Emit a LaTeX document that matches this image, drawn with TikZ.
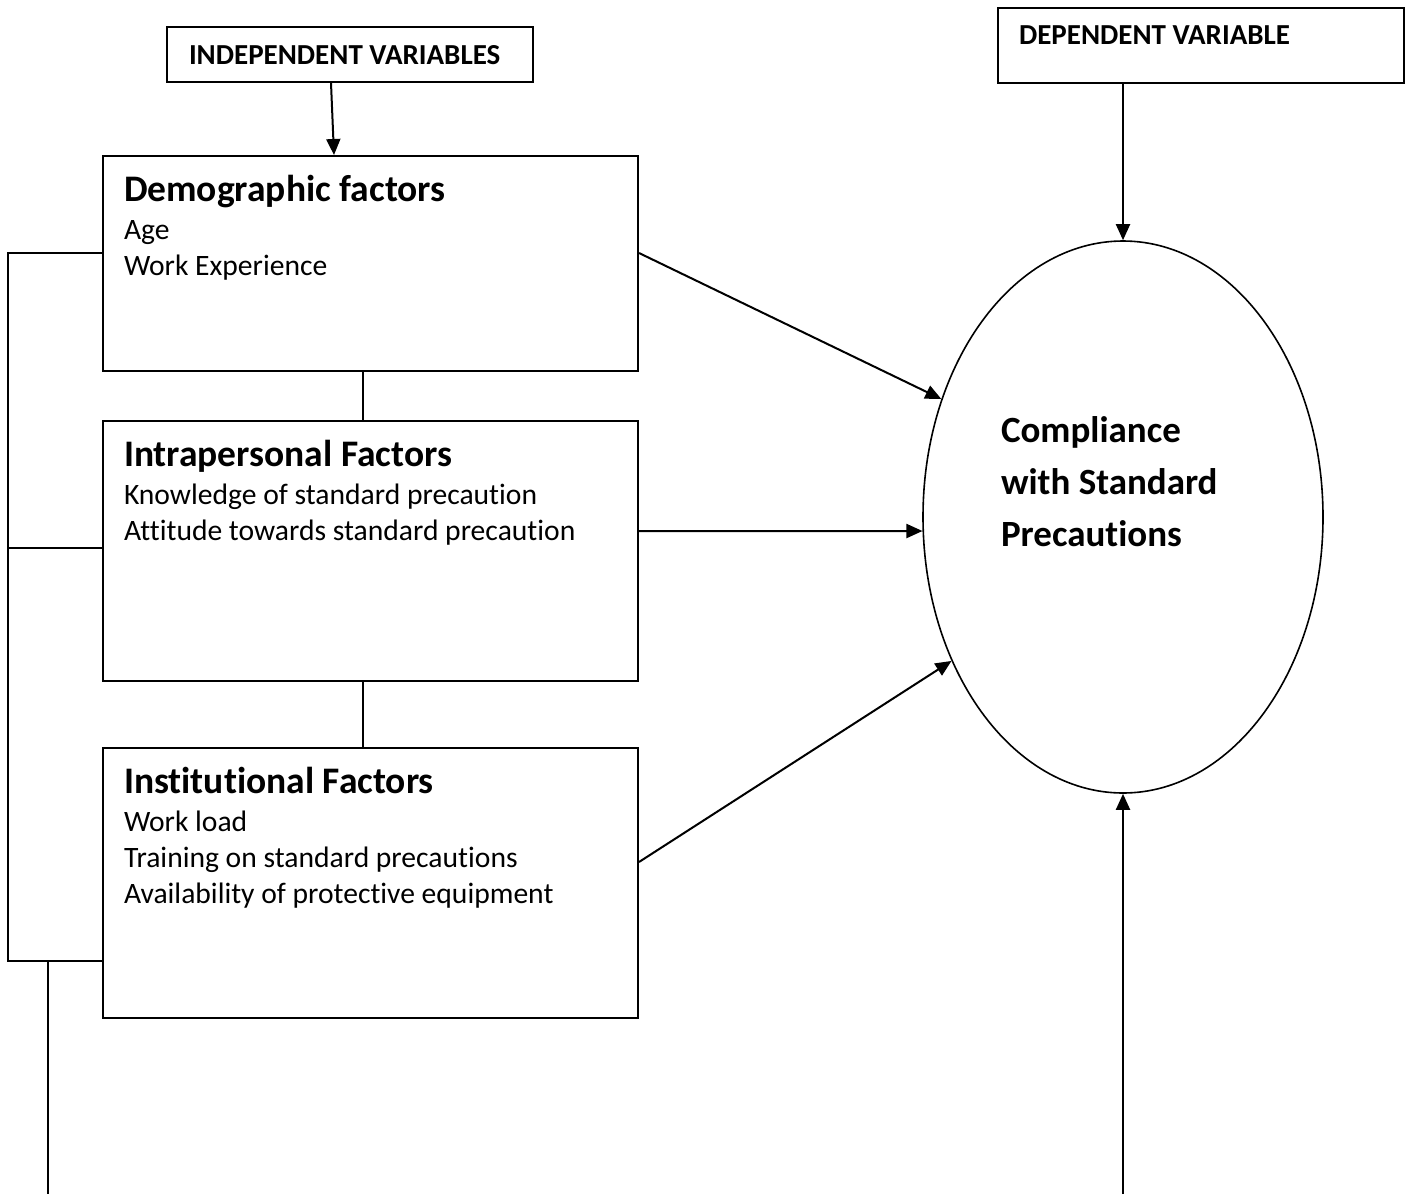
\documentclass[tikz,border=0pt]{standalone}
\usepackage{fontspec}
\setmainfont{Carlito}[Ligatures=NoCommon]
\usetikzlibrary{shapes.geometric,arrows.meta}
\begin{document}
\begin{tikzpicture}[x=1pt,y=-1pt, line width=2pt,
  box/.style={draw, rectangle, anchor=north west, inner sep=0pt},
  head/.style={anchor=base west, inner sep=0pt, font=\fontsize{37.5}{40}\selectfont\bfseries},
  body/.style={anchor=base west, inner sep=0pt, font=\fontsize{29.6}{34}\selectfont},
  lab/.style={anchor=base west, inner sep=0pt, font=\fontsize{29}{30}\selectfont\bfseries},
  big/.style={anchor=base west, inner sep=0pt, font=\fontsize{37}{42}\selectfont\bfseries},
  arr/.style={-{Triangle[length=16pt,width=14pt]}}]
\useasboundingbox (0,0) rectangle (1405,1194);

% header boxes
\node[box, minimum width=366pt, minimum height=55pt] (ind) at (166,26) {};
\node[lab] (indT) at (188,64) {INDEPENDENT VARIABLES};
\node[box, minimum width=406pt, minimum height=75pt] (dep) at (997,7) {};
\node[lab] (depT) at (1018,44) {DEPENDENT VARIABLE};

% factor boxes
\node[box, minimum width=535pt, minimum height=215pt] (demo) at (102,155) {};
\node[head] (demoH) at (123,201) {Demographic factors};
\node[body] (demo1) at (123,239) {Age};
\node[body] (demo2) at (123,275) {Work Experience};

\node[box, minimum width=535pt, minimum height=260pt] (intra) at (102,420) {};
\node[head] (intraH) at (123,466) {Intrapersonal Factors};
\node[body] (intra1) at (123,504) {Knowledge of standard precaution};
\node[body] (intra2) at (123,540) {Attitude towards standard precaution};

\node[box, minimum width=535pt, minimum height=270pt] (inst) at (102,747) {};
\node[head] (instH) at (123,793) {Institutional Factors};
\node[body] (inst1) at (123,831) {Work load};
\node[body] (inst2) at (123,867) {Training on standard precautions};
\node[body] (inst3) at (123,903) {Availability of protective equipment};

% outcome ellipse
\node[draw, line width=1.6pt, ellipse, minimum width=400pt, minimum height=552pt, inner sep=0pt] (comp) at (1123,517) {};
\node[big] (comp1) at (1000,442) {Compliance};
\node[big] (comp2) at (1000,494) {with Standard};
\node[big] (comp3) at (1000,546) {Precautions};

% arrows
\draw[arr] ([xshift=-19pt]ind.south) -- ([xshift=232pt]demo.north west);
\draw[arr] (comp.north |- dep.south) -- (comp.north);
\draw[arr] ([yshift=-98pt]demo.north east) -- (comp.147.7);
\draw[arr] ([yshift=-111pt]intra.north east) -- (comp.184.6);
\draw[arr] ([yshift=-115pt]inst.north east) -- (comp.220.4);
\coordinate (bot) at (comp.south |- 0,1194);
\draw[arr] (bot) -- (comp.south);

% links between boxes
\draw ([xshift=-8pt]demo.south) -- ([xshift=-8pt]intra.north);
\draw ([xshift=-8pt]intra.south) -- ([xshift=-8pt]inst.north);

% left bracket
\coordinate (lt) at (8,253);
\coordinate (lb) at (8,961);
\draw ([yshift=-98pt]demo.north west) -- (lt) -- (lb) -- ([yshift=-214pt]inst.north west);
\draw (lt |- 0,548) -- ([yshift=-128pt]intra.north west);
\coordinate (lbot) at (48,1194);
\draw (48,961) -- (lbot);
\end{tikzpicture}
\end{document}
